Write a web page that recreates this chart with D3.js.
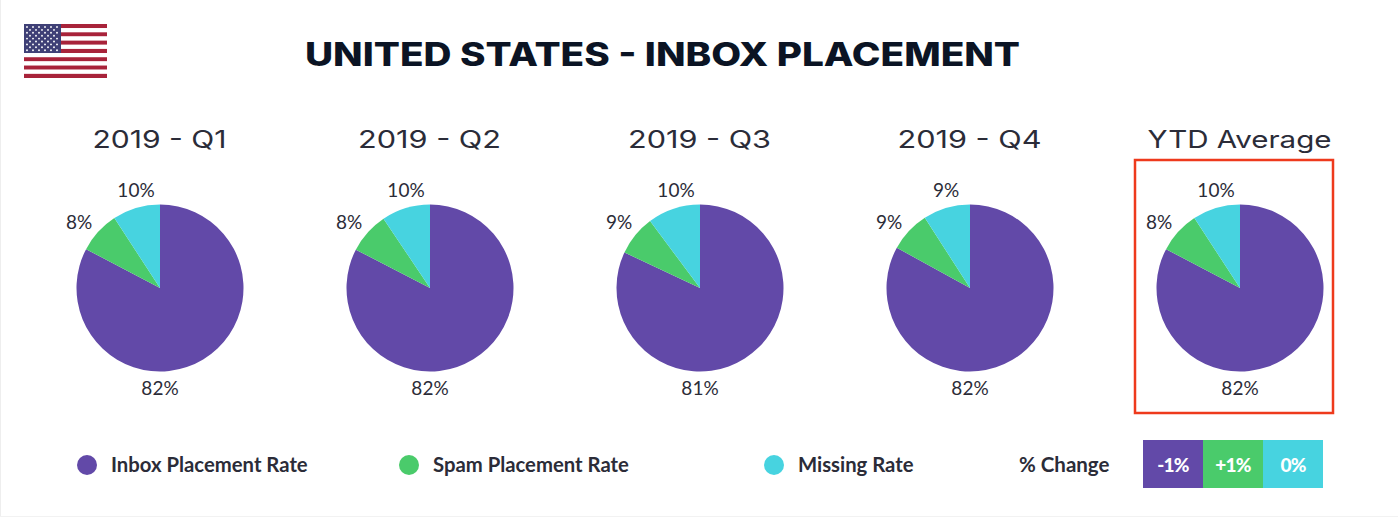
<!DOCTYPE html>
<html>
<head>
<meta charset="utf-8">
<script src="https://cdn.jsdelivr.net/npm/d3@7"></script>
<style>
  html, body { margin: 0; padding: 0; background: #fff; }
  svg { display: block; }
  text { font-family: Lato, "Noto Sans", sans-serif; fill: #2b2c38; }
</style>
</head>
<body>
<svg id="chart" width="1398" height="517"></svg>
<script>
const periods = ['2019 - Q1', '2019 - Q2', '2019 - Q3', '2019 - Q4', 'YTD Average'];
const inboxRate = [82.7, 82.6, 82.0, 83.0, 82.7];
const spamRate = [8.1, 8.0, 7.8, 7.9, 8.1];
const missingRate = [9.2, 9.4, 10.2, 9.1, 9.2];
// percentages as printed
const inboxLabels = [82, 82, 81, 82, 82];
const spamLabels = [8, 8, 9, 9, 8];
const missingLabels = [10, 10, 10, 9, 10];
const rateNames = ['Inbox Placement Rate', 'Spam Placement Rate', 'Missing Rate'];
const changeLabels = ['-1%', '+1%', '0%'];

const colors = d3.scaleOrdinal(rateNames, ['#6249a8', '#4acb6b', '#47d3e0']);
const svg = d3.select('#chart');

// faint page edge
svg.append('rect').attr('width', 1398).attr('height', 517).attr('fill', '#fff');
svg.append('rect').attr('width', 1).attr('height', 517).attr('fill', '#eeeeee');
svg.append('rect').attr('y', 516).attr('width', 1398).attr('height', 1).attr('fill', '#f2f2f2');

// flag
const flag = svg.append('g').attr('transform', 'translate(24,24)');
d3.range(13).forEach((i) => {
  flag.append('rect')
    .attr('y', i * 54 / 13)
    .attr('width', 83)
    .attr('height', 54 / 13)
    .attr('fill', i % 2 ? '#fff' : '#a8233a');
});
flag.append('rect').attr('width', 37).attr('height', 29).attr('fill', '#3f4076');
d3.range(9).forEach((row) => {
  const n = row % 2 ? 5 : 6;
  d3.range(n).forEach((col) => {
    flag.append('circle')
      .attr('cx', (row % 2 ? 6 : 3) + col * 6)
      .attr('cy', 3 + row * 2.9)
      .attr('r', 0.95)
      .attr('fill', '#fff');
  });
});

svg.append('text')
  .attr('x', 305)
  .attr('y', 66)
  .attr('textLength', 715)
  .attr('lengthAdjust', 'spacingAndGlyphs')
  .style('font-family', 'Inter, Lato, sans-serif')
  .style('font-size', '32px')
  .style('font-weight', 800)
  .style('fill', '#0b1424')
  .text('UNITED STATES - INBOX PLACEMENT');

const centers = d3.scalePoint().domain(periods).range([160, 1240]);
const radius = 83.5;
const cy = 288;
const pie = d3.pie().sort(null).value((d) => d.value);
const arc = d3.arc().innerRadius(0).outerRadius(radius);

const titleWidths = [134, 143, 143, 144, 184];
const labelX = [0, -81, -24];
const labelY = [radius + 23, -59, -91];

periods.forEach((period, p) => {
  const labels = [inboxLabels[p], spamLabels[p], missingLabels[p]];
  const data = rateNames.map((name, i) => ({
    name,
    value: [inboxRate, spamRate, missingRate][i][p],
    label: labels[i],
  }));
  const g = svg.append('g').attr('transform', `translate(${centers(period)},${cy})`);

  svg.append('text')
    .attr('x', centers(period) - titleWidths[p] / 2 - 0.5)
    .attr('y', 148)
    .attr('textLength', titleWidths[p])
    .attr('lengthAdjust', 'spacingAndGlyphs')
    .style('font-family', 'Inter, Lato, sans-serif')
    .style('font-size', '24px')
    .style('font-weight', 400)
    .text(period);

  g.selectAll('path')
    .data(pie(data))
    .join('path')
    .attr('d', arc)
    .attr('fill', (d) => colors(d.data.name));

  // labels keep the same spot round every pie
  g.selectAll('text')
    .data(pie(data))
    .join('text')
    .attr('text-anchor', 'middle')
    .attr('x', (d, i) => labelX[i])
    .attr('y', (d, i) => labelY[i])
    .style('font-size', '19px')
    .text((d) => `${d.data.label}%`);
});

// highlight round the average
svg.append('rect')
  .attr('x', 1135)
  .attr('y', 160)
  .attr('width', 198)
  .attr('height', 253)
  .attr('fill', 'none')
  .attr('stroke', '#ee3a1c')
  .attr('stroke-width', 2.5);

// legend
const legendX = d3.scaleOrdinal(rateNames, [87, 409, 774]);
rateNames.forEach((name) => {
  svg.append('circle')
    .attr('cx', legendX(name))
    .attr('cy', 465)
    .attr('r', 10)
    .attr('fill', colors(name));
  svg.append('text')
    .attr('x', legendX(name) + 24)
    .attr('y', 472)
    .style('font-size', '20.3px')
    .style('font-weight', 700)
    .text(name);
});

svg.append('text')
  .attr('x', 1019)
  .attr('y', 472)
  .style('font-size', '20.5px')
  .style('font-weight', 700)
  .text('% Change');

const changeX = d3.scaleBand().domain(changeLabels).range([1143, 1323]);
changeLabels.forEach((label, i) => {
  svg.append('rect')
    .attr('x', changeX(label))
    .attr('y', 440)
    .attr('width', changeX.bandwidth())
    .attr('height', 48)
    .attr('fill', colors(rateNames[i]));
  svg.append('text')
    .attr('x', changeX(label) + changeX.bandwidth() / 2)
    .attr('y', 472)
    .attr('text-anchor', 'middle')
    .style('font-size', '19px')
    .style('font-weight', 900)
    .style('letter-spacing', '-0.8px')
    .style('fill', '#fff')
    .text(label);
});
</script>
</body>
</html>
